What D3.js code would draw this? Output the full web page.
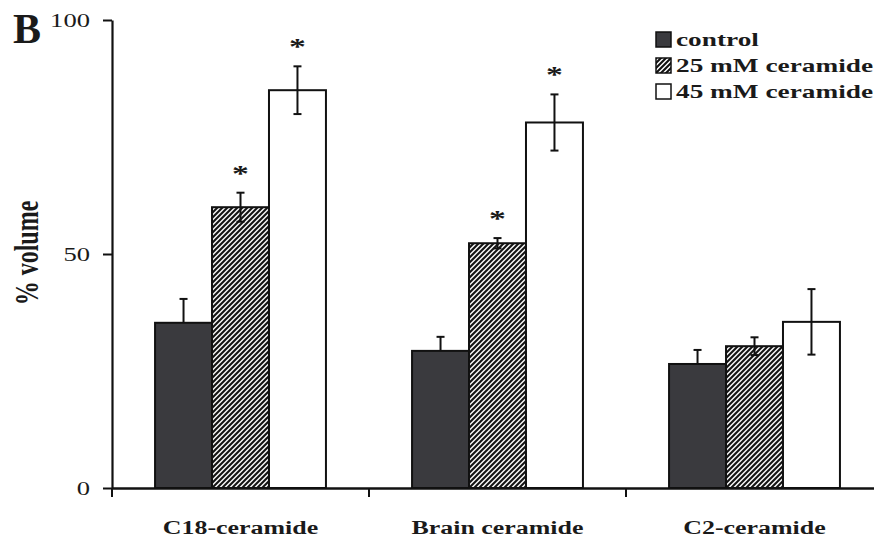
<!DOCTYPE html>
<html>
<head>
<meta charset="utf-8">
<script src="https://cdn.jsdelivr.net/npm/d3@7"></script>
<style>
  html, body { margin: 0; padding: 0; background: #fff; }
  svg { display: block; }
  text { font-family: "Liberation Serif", "Times New Roman", serif; fill: #1a1a1a; }
</style>
</head>
<body>
<svg id="chart" width="874" height="540"></svg>
<script>
// Ceramide treatments (x groups) and series
const categories = ["C18-ceramide", "Brain ceramide", "C2-ceramide"];
const seriesNames = ["control", "25 mM ceramide", "45 mM ceramide"];

// % volume means and error (SE) per treatment
const controlValues = [35.3, 29.3, 26.5];
const controlErrors = [5.1, 3.0, 3.0];
const c25Values = [60.0, 52.3, 30.3];
const c25Errors = [3.1, 1.1, 1.9];
const c45Values = [85.0, 78.1, 35.5];
const c45Errors = [5.1, 6.0, 7.0];

// significance markers (*)
const controlSig = [false, false, false];
const c25Sig = [true, true, false];
const c45Sig = [true, true, false];

const yTicks = [0, 50, 100];

const series = [
  { name: seriesNames[0], values: controlValues, errors: controlErrors, sig: controlSig, fill: "#3a3a3e", upperOnly: true },
  { name: seriesNames[1], values: c25Values, errors: c25Errors, sig: c25Sig, fill: "url(#hatch)", upperOnly: false },
  { name: seriesNames[2], values: c45Values, errors: c45Errors, sig: c45Sig, fill: "#ffffff", upperOnly: false }
];

const SX = 1.4; // horizontal stretch of lettering

const svg = d3.select("#chart");

// diagonal hatch pattern
const defs = svg.append("defs");
const pat = defs.append("pattern")
  .attr("id", "hatch").attr("patternUnits", "userSpaceOnUse")
  .attr("width", 5).attr("height", 5);
pat.append("rect").attr("width", 5).attr("height", 5).attr("fill", "#fff");
pat.append("path")
  .attr("d", "M0,5 L5,0 M-1,1 L1,-1 M4,6 L6,4")
  .attr("stroke", "#111").attr("stroke-width", 2.1);

const x = d3.scaleBand().domain(categories).range([112, 883])
  .paddingInner(0.335).paddingOuter(0.1675);
const x1 = d3.scaleBand().domain(seriesNames).range([0, x.bandwidth()]);
const y = d3.scaleLinear().domain([0, 100]).range([488, 20]);

// bars
const groups = svg.append("g").selectAll("g")
  .data(categories).join("g")
  .attr("transform", d => `translate(${x(d)},0)`);

groups.each(function(cat, ci) {
  const g = d3.select(this);
  series.forEach(s => {
    const v = s.values[ci];
    const bx = x1(s.name);
    g.append("rect")
      .attr("x", bx).attr("y", y(v))
      .attr("width", x1.bandwidth()).attr("height", y(0) - y(v))
      .attr("fill", s.fill).attr("stroke", "#111").attr("stroke-width", 2);
  });
  series.forEach(s => {
    const v = s.values[ci], e = s.errors[ci];
    const cx = x1(s.name) + x1.bandwidth() / 2;
    const lo = s.upperOnly ? v : v - e;
    const hi = v + e;
    g.append("line").attr("x1", cx).attr("x2", cx)
      .attr("y1", y(lo)).attr("y2", y(hi))
      .attr("stroke", "#111").attr("stroke-width", 2);
    const caps = s.upperOnly ? [hi] : [lo, hi];
    caps.forEach(c => {
      g.append("line").attr("x1", cx - 4).attr("x2", cx + 4)
        .attr("y1", y(c)).attr("y2", y(c))
        .attr("stroke", "#111").attr("stroke-width", 2);
    });
    if (s.sig[ci]) {
      g.append("text")
        .attr("transform", `translate(${cx},${y(hi) - 12}) scale(${SX},1)`)
        .attr("text-anchor", "middle")
        .style("font-size", "24px").style("font-weight", "bold")
        .text("*");
    }
  });
});

// y axis
const yAxis = svg.append("g").attr("transform", "translate(112,0)")
  .call(d3.axisLeft(y).tickValues(yTicks).tickSize(9).tickSizeOuter(0).tickFormat(d3.format("d")));
yAxis.select(".domain").attr("stroke", "#111").attr("stroke-width", 2.2);
yAxis.selectAll(".tick line").attr("stroke", "#111").attr("stroke-width", 2);
yAxis.selectAll(".tick text")
  .attr("x", -22 / SX).attr("transform", `scale(${SX},1)`)
  .style("font-size", "19px").style("font-family", "Liberation Serif, serif").attr("fill", "#1a1a1a");

// x axis: category labels
const xAxis = svg.append("g").attr("transform", "translate(0,488)")
  .call(d3.axisBottom(x).tickSize(0).tickSizeOuter(0).tickPadding(33));
xAxis.select(".domain").attr("stroke", "#111").attr("stroke-width", 2.4);
xAxis.selectAll(".tick text")
  .attr("transform", `scale(${SX},1)`)
  .style("font-size", "18.5px").style("font-weight", "bold")
  .style("font-family", "Liberation Serif, serif").attr("fill", "#1a1a1a");

// x axis: boundary ticks between groups
const gap = (x.step() - x.bandwidth()) / 2;
svg.append("g").selectAll("line")
  .data(categories).join("line")
  .attr("x1", d => x(d) - gap).attr("x2", d => x(d) - gap)
  .attr("y1", 488).attr("y2", 497)
  .attr("stroke", "#111").attr("stroke-width", 2);

// y axis title
svg.append("text")
  .attr("transform", `translate(38,253) scale(${SX},1) rotate(-90)`)
  .attr("text-anchor", "middle")
  .style("font-size", "24px").style("font-weight", "bold")
  .text("% volume");

// panel letter
svg.append("text")
  .attr("x", 13).attr("y", 43)
  .style("font-size", "42px").style("font-weight", "bold")
  .text("B");

// legend
const legend = svg.append("g").attr("transform", "translate(656,32)");
series.forEach((s, i) => {
  const row = legend.append("g").attr("transform", `translate(0,${i * 26})`);
  row.append("rect").attr("width", 15).attr("height", 15)
    .attr("fill", s.fill).attr("stroke", "#111").attr("stroke-width", 1.5);
  row.append("text")
    .attr("transform", `translate(20,14) scale(${SX},1)`)
    .style("font-size", "19.5px").style("font-weight", "bold")
    .text(s.name);
});
</script>
</body>
</html>
